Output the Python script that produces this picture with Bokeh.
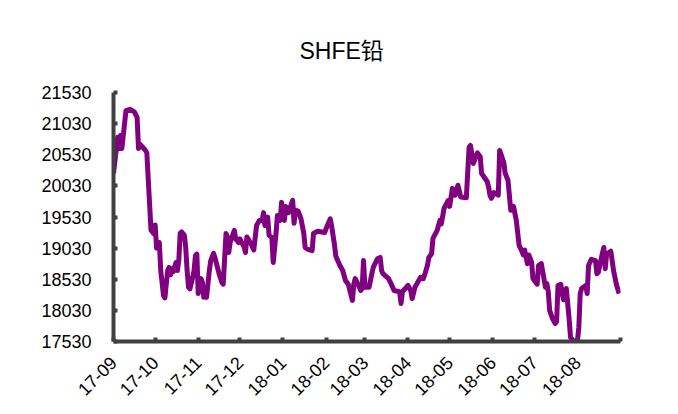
import math
from datetime import datetime
import pandas as pd
from bokeh.plotting import figure
from bokeh.models import Range1d, FixedTicker, DatetimeTickFormatter, ColumnDataSource
from bokeh.embed import file_html
from bokeh.resources import INLINE

title_text = "SHFE铅"

dates = [
    "2017-09-01", "2017-09-04", "2017-09-05", "2017-09-06", "2017-09-07", "2017-09-10",
    "2017-09-13", "2017-09-16", "2017-09-18", "2017-09-19", "2017-09-20", "2017-09-22",
    "2017-09-24", "2017-09-25", "2017-09-28", "2017-09-30", "2017-10-01", "2017-10-02",
    "2017-10-04", "2017-10-05", "2017-10-07", "2017-10-08", "2017-10-10", "2017-10-11",
    "2017-10-12", "2017-10-13", "2017-10-14", "2017-10-16", "2017-10-17", "2017-10-18",
    "2017-10-19", "2017-10-20", "2017-10-22", "2017-10-23", "2017-10-24", "2017-10-25",
    "2017-10-26", "2017-10-28", "2017-10-29", "2017-10-30", "2017-10-31", "2017-11-01",
    "2017-11-03", "2017-11-04", "2017-11-05", "2017-11-06", "2017-11-07", "2017-11-09",
    "2017-11-10", "2017-11-12", "2017-11-13", "2017-11-16", "2017-11-18", "2017-11-19",
    "2017-11-21", "2017-11-22", "2017-11-23", "2017-11-24", "2017-11-27", "2017-11-28",
    "2017-11-30", "2017-12-01", "2017-12-04", "2017-12-05", "2017-12-06", "2017-12-09",
    "2017-12-11", "2017-12-13", "2017-12-15", "2017-12-17", "2017-12-18", "2017-12-19",
    "2017-12-21", "2017-12-22", "2017-12-24", "2017-12-25", "2017-12-27", "2017-12-28",
    "2017-12-30", "2017-12-31", "2018-01-02", "2018-01-03", "2018-01-05", "2018-01-08",
    "2018-01-09", "2018-01-10", "2018-01-12", "2018-01-14", "2018-01-16", "2018-01-17",
    "2018-01-19", "2018-01-22", "2018-01-23", "2018-01-26", "2018-01-31", "2018-02-02",
    "2018-02-04", "2018-02-05", "2018-02-07", "2018-02-08", "2018-02-09", "2018-02-11",
    "2018-02-13", "2018-02-15", "2018-02-17", "2018-02-20", "2018-02-21", "2018-02-22",
    "2018-02-25", "2018-02-26", "2018-02-27", "2018-02-28", "2018-03-01", "2018-03-04",
    "2018-03-06", "2018-03-07", "2018-03-10", "2018-03-12", "2018-03-13", "2018-03-14",
    "2018-03-18", "2018-03-20", "2018-03-22", "2018-03-26", "2018-03-27", "2018-03-28",
    "2018-04-01", "2018-04-03", "2018-04-04", "2018-04-06", "2018-04-10", "2018-04-12",
    "2018-04-13", "2018-04-15", "2018-04-16", "2018-04-18", "2018-04-19", "2018-04-22",
    "2018-04-24", "2018-04-25", "2018-04-27", "2018-04-30", "2018-05-01", "2018-05-03",
    "2018-05-05", "2018-05-07", "2018-05-09", "2018-05-13", "2018-05-15", "2018-05-16",
    "2018-05-18", "2018-05-21", "2018-05-23", "2018-05-24", "2018-05-28", "2018-05-29",
    "2018-05-30", "2018-05-31", "2018-06-02", "2018-06-05", "2018-06-06", "2018-06-09",
    "2018-06-10", "2018-06-12", "2018-06-14", "2018-06-16", "2018-06-18", "2018-06-20",
    "2018-06-22", "2018-06-23", "2018-06-24", "2018-06-26", "2018-06-27", "2018-06-29",
    "2018-06-30", "2018-07-03", "2018-07-04", "2018-07-06", "2018-07-09", "2018-07-10",
    "2018-07-11", "2018-07-12", "2018-07-14", "2018-07-16", "2018-07-17", "2018-07-18",
    "2018-07-20", "2018-07-21", "2018-07-22", "2018-07-23", "2018-07-24", "2018-07-26",
    "2018-07-27", "2018-07-29", "2018-08-01", "2018-08-02", "2018-08-03", "2018-08-04",
    "2018-08-07", "2018-08-08", "2018-08-09", "2018-08-11", "2018-08-14", "2018-08-15",
    "2018-08-16", "2018-08-19", "2018-08-20", "2018-08-21", "2018-08-22", "2018-08-25",
    "2018-08-26", "2018-08-27", "2018-08-29", "2018-08-31",
]

prices = [
    20230, 20810, 20630, 20840, 20630, 21240,
    21260, 21220, 21130, 20630, 20700, 20650,
    20600, 20560, 19320, 19260, 19400, 19030,
    19120, 18670, 18270, 18230, 18670, 18720,
    18600, 18700, 18650, 18800, 18670, 18830,
    19265, 19290, 19240, 19040, 18670, 18400,
    18375, 18560, 18670, 18910, 18935, 18300,
    18540, 18480, 18240, 18290, 18240, 18670,
    18830, 18945, 18880, 18620, 18480, 18450,
    19265, 19210, 18960, 19120, 19315, 19180,
    19120, 19180, 19050, 18960, 19210, 19100,
    19000, 19395, 19475, 19475, 19600, 19395,
    19530, 19235, 19200, 18800, 19265, 19555,
    19475, 19765, 19475, 19700, 19600, 19797,
    19430, 19640, 19620, 19500, 19265, 19040,
    19010, 18990, 19265, 19300, 19280, 19395,
    19500, 19390, 19100, 18910, 18850, 18750,
    18670, 18510, 18450, 18190, 18450, 18540,
    18400, 18350, 18380, 18830, 18400, 18400,
    18620, 18720, 18860, 18880, 18670, 18620,
    18540, 18450, 18350, 18330, 18140, 18330,
    18430, 18350, 18220, 18400, 18560, 18540,
    18600, 18750, 18880, 18940, 19185, 19315,
    19475, 19420, 19670, 19795, 19700, 19990,
    19880, 20040, 19850, 19840, 20650, 20680,
    20390, 20560, 20500, 20230, 20100, 20020,
    19880, 19830, 19920, 19880, 20600, 20400,
    20230, 20120, 19640, 19700, 19475, 19075,
    18980, 18920, 19000, 18780, 18920, 18800,
    18540, 18450, 18750, 18780, 18400, 18460,
    18330, 18030, 17900, 17820, 17850, 18430,
    18450, 18300, 18200, 18350, 18380, 17900,
    17600, 17540, 17540, 17760, 18300, 18380,
    18430, 18300, 18750, 18850, 18830, 18620,
    18640, 18950, 19040, 18700, 18930, 18980,
    18830, 18670, 18450, 18300,
]

y_ticks = [17530, 18030, 18530, 19030, 19530, 20030, 20530, 21030, 21530]
month_ticks = ["2017-09-01", "2017-10-01", "2017-11-01", "2017-12-01", "2018-01-01",
               "2018-02-01", "2018-03-01", "2018-04-01", "2018-05-01", "2018-06-01",
               "2018-07-01", "2018-08-01", "2018-09-01"]
x_start, x_end = "2017-09-01", "2018-09-01"

FONT = "'Liberation Sans', Arial, 'Noto Sans CJK SC'"
AXIS_COLOR = "#404040"

src = ColumnDataSource(dict(x=pd.to_datetime(dates), y=prices))

p = figure(width=670, height=406, output_backend="svg", toolbar_location=None,
           x_axis_type="datetime",
           x_range=Range1d(pd.Timestamp(x_start), pd.Timestamp(x_end)),
           y_range=Range1d(y_ticks[0], y_ticks[-1]),
           min_border_left=113, min_border_right=50, min_border_top=92, min_border_bottom=65)

p.line("x", "y", source=src, line_color="#800080", line_width=5, line_join="round")

p.title.text = title_text
p.title.text_font = FONT
p.title.text_font_size = "23px"
p.title.text_font_style = "normal"
p.title.text_color = "#000000"
p.title.align = "left"
p.title.offset = 186
p.title.standoff = 58

p.outline_line_color = None
p.xgrid.visible = False
p.ygrid.visible = False
p.background_fill_color = "white"
p.border_fill_color = "white"

tick_ms = [int(pd.Timestamp(t).value // 10**6) for t in month_ticks]
xa = p.xaxis[0]
xa.ticker = FixedTicker(ticks=tick_ms)
xa.formatter = DatetimeTickFormatter(days="%y-%m", months="%y-%m", years="%y-%m")
xa.major_label_overrides = {tick_ms[-1]: ""}
xa.major_label_orientation = math.pi / 4
ya = p.yaxis[0]
ya.ticker = FixedTicker(ticks=y_ticks)

for ax in (xa, ya):
    ax.axis_line_color = AXIS_COLOR
    ax.axis_line_width = 4
    ax.major_tick_line_color = AXIS_COLOR
    ax.major_tick_line_width = 4
    ax.major_tick_in = 4
    ax.major_tick_out = 0
    ax.minor_tick_line_color = None
    ax.major_label_text_font = FONT
    ax.major_label_text_font_size = "18px"
    ax.major_label_text_color = "#000000"

ya.major_label_standoff = 22
xa.major_label_standoff = 18

open("out.html", "w").write(file_html(p, INLINE))
